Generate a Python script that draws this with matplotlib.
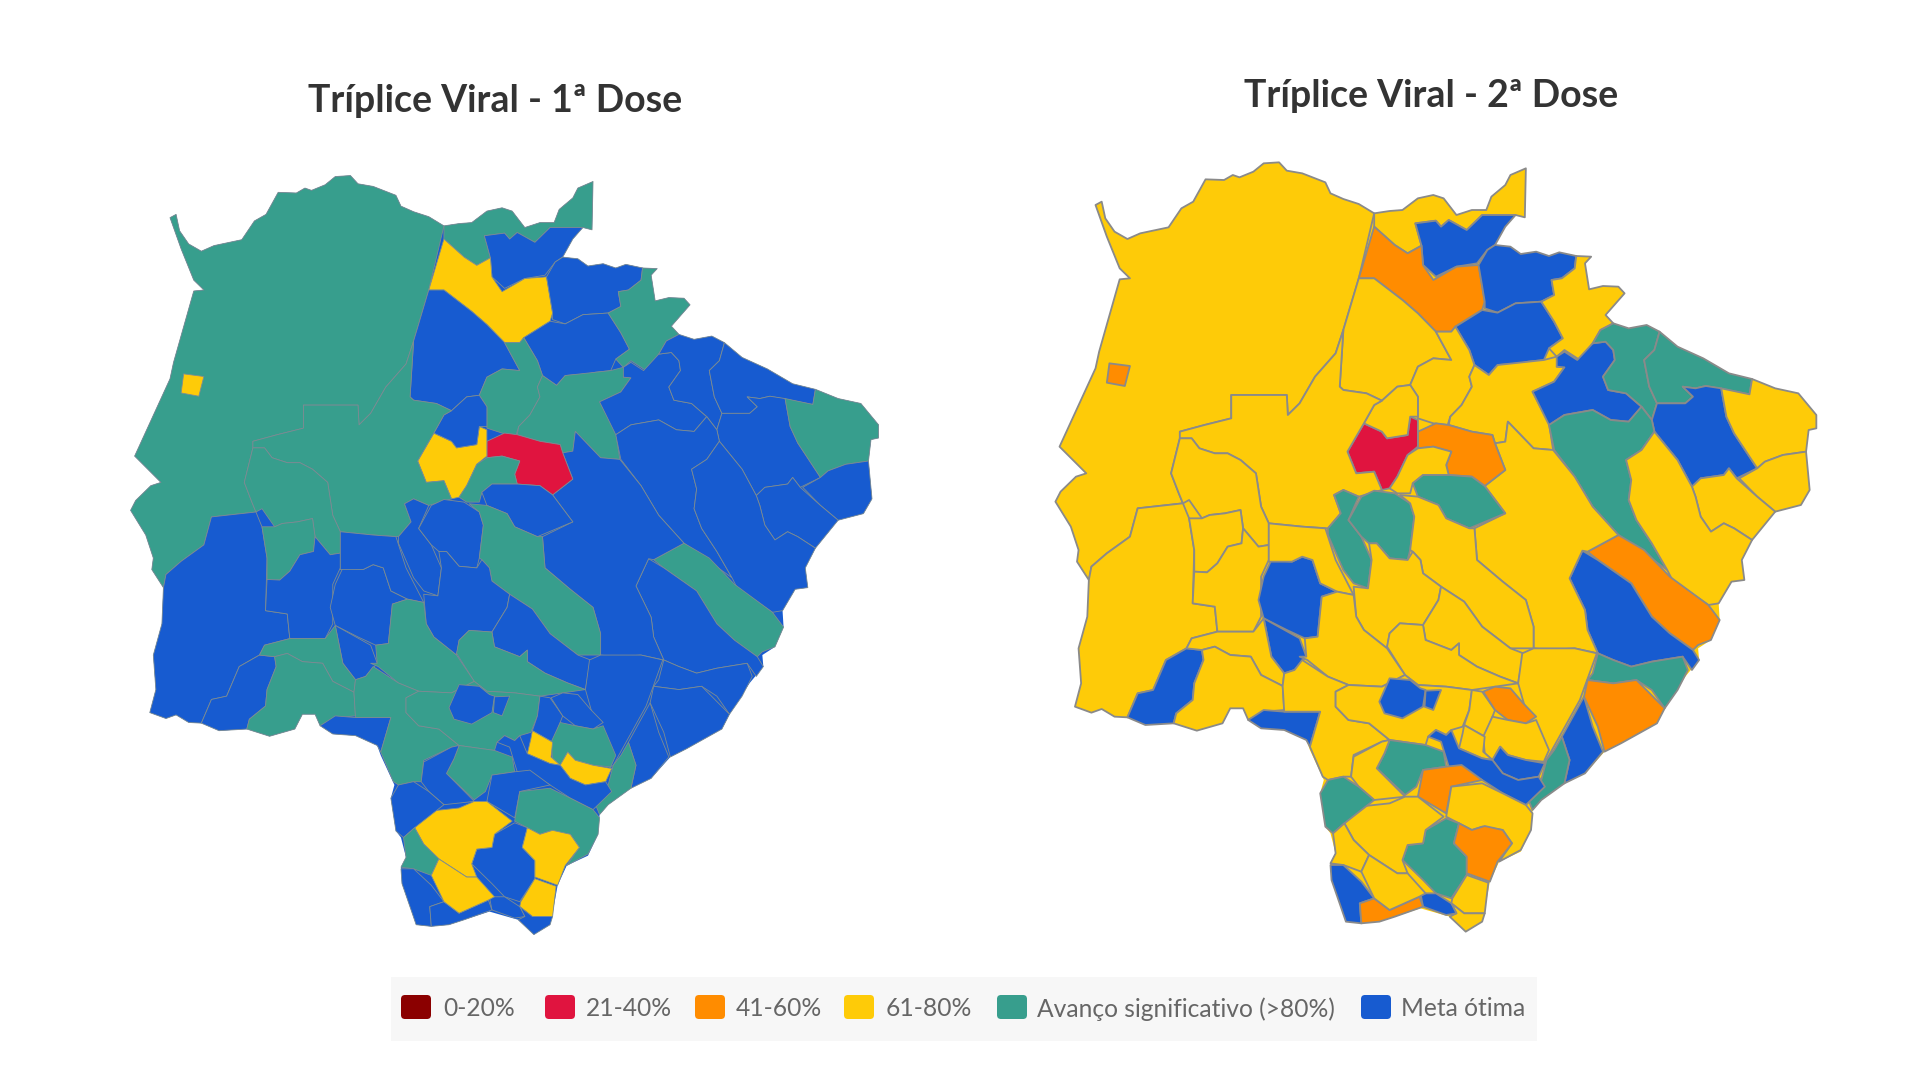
# triplice viral - mapa de cobertura por municipio (MS)
import matplotlib
matplotlib.use("Agg")
import matplotlib.pyplot as plt
from matplotlib.patches import Polygon, FancyBboxPatch, Rectangle
from matplotlib.transforms import Affine2D

LOW = 1290  # tracos da metade de baixo do mapa

def low(pts):
    return [(x, y + LOW) for x, y in pts]

# contorno do estado
estado = [(108,225),(120,215),(127,265),(145,305),(170,327),(195,310),(250,292),(275,235),(298,215),(322,148),(358,150),(375,135),(388,142),(415,125),(435,100),(465,97),(480,122),(510,130),(555,157),(565,190),(590,207),(620,222),(650,250),(680,243),(705,240),(735,205),(765,195),(785,205),(810,255),(840,240),(868,240),(878,200),(905,165),(915,135),(945,115),(943,262),(925,255),(905,290),(885,345),(915,350),(935,372),(965,365),(990,378),(1010,367),(1045,378),(1072,380),(1060,400),(1068,478),(1095,468),(1125,470),(1137,490),(1100,555),(1115,580),(1145,595),(1180,585),(1205,605),(1240,650),(1290,685),(1340,730),(1385,747),(1430,775),(1475,790),(1510,855),(1510,895),(1495,900),(1490,965),(1497,1080),(1480,1125),(1430,1145),(1385,1230),(1365,1290),(1370,1350),(1345,1355),(1320,1420),(1322,1470),(1305,1530),(1280,1555),(1282,1590),(1255,1640),(1215,1735),(1200,1780),(1130,1840),(1098,1865),(1060,1930),(1020,1960),(975,2010),(958,2040),(955,2100),(935,2165),(893,2195),(875,2255),(865,2340),(860,2375),(828,2405),(797,2360),(740,2335),(690,2360),(660,2375),(625,2380),(595,2375),(585,2330),(567,2250),(565,2200),(575,2170),(565,2110),(555,2090),(545,1990),(552,1950),(525,1860),(518,1830),(475,1800),(430,1795),(405,1770),(395,1735),(370,1735),(355,1780),(305,1802),(260,1780),(205,1785),(170,1762),(145,1760),(120,1737),(100,1748),(68,1730),(80,1660),(75,1555),(92,1460),(95,1350),(72,1295),(75,1260),(60,1190),(30,1115),(40,1085),(70,1040),(90,1030),(38,950),(108,715),(115,665),(155,448),(175,445),(155,415),(130,320)]

corumba = [(108,225),(120,215),(127,265),(145,305),(170,327),(195,310),(250,292),(275,235),(298,215),(322,148),(358,150),(375,135),(388,142),(415,125),(435,100),(465,97),(480,122),(510,130),(555,157),(565,190),(590,207),(620,222),(650,250),(620,445),(590,600),(575,670),(535,740),(505,820),(482,855),(480,795),(372,795),(372,865),(320,885),(272,905),(272,925),(255,1030),(270,1090),(278,1120),(190,1135),(175,1220),(130,1270),(100,1310),(95,1350),(72,1295),(75,1260),(60,1190),(30,1115),(40,1085),(70,1040),(90,1030),(38,950),(108,715),(115,665),(155,448),(175,445),(155,415),(130,320)]
ladario = [(135,700),(175,708),(165,768),(130,758)]
sonora = [(650,250),(680,243),(705,240),(735,205),(765,195),(785,205),(810,255),(840,240),(868,240),(878,200),(905,165),(915,135),(945,115),(943,262),(925,255),(860,255),(830,300),(795,270),(780,290),(770,272),(730,280),(742,347),(715,370),(690,345),(650,290)]
pedro_gomes = [(730,280),(770,272),(780,290),(795,270),(830,300),(860,255),(925,255),(905,290),(885,345),(870,360),(850,400),(810,410),(770,440),(745,405),(742,347)]
coxim = [(650,290),(690,345),(715,370),(742,347),(745,405),(765,450),(810,410),(853,405),(865,515),(860,540),(808,590),(800,605),(770,605),(735,550),(705,510),(650,445),(620,445)]
alcinopolis = [(885,345),(915,350),(935,372),(965,365),(990,378),(1010,367),(1043,378),(1040,415),(1015,445),(995,450),(1000,495),(975,515),(925,520),(890,548),(865,535),(865,515),(853,405),(870,360)]
figueirao = [(808,590),(860,540),(890,548),(925,520),(975,515),(1000,575),(1017,625),(990,655),(980,690),(950,695),(935,700),(890,705),(873,735),(845,705),(835,660)]
costa_rica = [(1043,378),(1072,380),(1060,400),(1068,478),(1095,468),(1125,470),(1137,490),(1100,555),(1115,580),(1090,600),(1075,640),(1050,690),(1020,660),(1005,680),(990,655),(1017,625),(1000,575),(975,515),(1000,495),(995,450),(1015,445),(1040,415)]
rio_verde = [(620,445),(650,445),(705,510),(735,550),(770,605),(800,690),(765,685),(735,710),(720,765),(695,770),(665,812),(635,790),(590,780),(583,770),(590,600)]
sao_gabriel = [(770,605),(800,605),(808,590),(835,660),(845,705),(835,740),(840,770),(820,825),(798,860),(793,885),(765,880),(735,865),(735,800),(720,765),(735,710),(765,685),(800,690)]
camapua = [(845,705),(873,735),(890,705),(950,695),(980,690),(1005,680),(1020,665),(1005,710),(1020,712),(1000,755),(958,785),(990,880),(998,960),(960,955),(935,915),(910,875),(905,935),(885,940),(880,915),(840,905),(795,885),(798,860),(820,825),(840,770),(835,740)]
chapadao = [(1005,680),(1020,665),(1045,690),(1075,640),(1100,635),(1115,660),(1118,690),(1095,740),(1105,780),(1140,790),(1170,830),(1145,875),(1110,870),(1075,840),(1020,855),(990,885),(958,785),(1000,755),(1020,712),(1005,710)]
verde_norte = [(1115,580),(1145,595),(1180,585),(1205,605),(1195,660),(1175,690),(1185,770),(1200,820),(1190,870),(1170,830),(1140,790),(1105,780),(1095,740),(1118,690),(1115,660),(1100,635),(1075,640),(1090,600)]
verde_leste = [(1205,605),(1240,650),(1290,685),(1340,730),(1385,747),(1380,793),(1320,775),(1295,768),(1275,775),(1250,770),(1270,800),(1255,820),(1200,820),(1185,770),(1175,690),(1195,660)]
paranaiba = [(1250,770),(1275,775),(1295,768),(1325,775),(1335,860),(1350,910),(1395,1015),(1355,1045),(1340,1015),(1330,1035),(1285,1045),(1268,1070),(1240,990),(1195,905),(1190,870),(1200,820),(1255,820),(1270,800)]
cassilandia = [(1325,775),(1380,793),(1385,747),(1430,775),(1475,790),(1510,855),(1510,895),(1495,900),(1490,965),(1445,975),(1410,995),(1395,1015),(1350,910),(1335,860)]
aparecida = [(1395,1015),(1410,995),(1445,975),(1490,965),(1497,1080),(1480,1125),(1430,1145),(1395,1100),(1360,1045)]
inocencia = [(1268,1070),(1285,1045),(1330,1035),(1340,1015),(1355,1045),(1395,1100),(1430,1145),(1385,1230),(1350,1195),(1330,1180),(1305,1205),(1285,1160),(1275,1100)]
agua_clara = [(990,885),(1020,855),(1075,840),(1110,870),(1145,875),(1170,830),(1190,870),(1195,905),(1170,960),(1140,990),(1150,1050),(1145,1110),(1160,1170),(1190,1240),(1220,1320),(1125,1215),(1075,1130),(1040,1040),(1000,960)]
selviria = [(1195,905),(1240,990),(1268,1070),(1275,1100),(1285,1160),(1305,1205),(1330,1180),(1350,1195),(1385,1230),(1365,1290),(1370,1350),(1345,1355),(1320,1420),(1300,1425),(1230,1350),(1220,1320),(1190,1240),(1160,1170),(1145,1110),(1150,1050),(1140,990),(1170,960)]
tres_lagoas = [(1125,1215),(1175,1260),(1225,1340),(1300,1425),(1322,1470),(1305,1530),(1280,1545),(1270,1560),(1225,1510),(1190,1460),(1150,1360),(1085,1290),(1065,1265)]
brasilandia = [(1055,1262),(1085,1290),(1150,1360),(1190,1460),(1225,1510),(1270,1560),(1282,1590),(1268,1620),(1250,1580),(1190,1595),(1150,1610),(1115,1590),(1085,1570),(1065,1500),(1060,1440),(1030,1345)]
ribas = [(998,960),(1040,1040),(1075,1130),(1125,1215),(1065,1265),(1055,1262),(1030,1345),(1060,1440),(1065,1500),(1085,1570),(1040,1555),(990,1560),(960,1555),(960,1490),(945,1410),(900,1355),(850,1290),(845,1195),(905,1150),(865,1068),(905,1020),(885,940),(905,935),(910,875),(935,915),(960,955)]
rochedo = [(735,905),(770,880),(795,885),(840,905),(880,915),(885,940),(905,1020),(865,1068),(840,1040),(795,1035),(790,1005),(800,965),(765,950),(735,955)]
rio_negro = [(630,880),(665,905),(675,925),(715,915),(720,860),(735,870),(735,950),(715,975),(695,1040),(680,1075),(665,1080),(650,1025),(615,1030),(598,965)]
corguinho = [(665,812),(695,770),(720,765),(735,800),(735,860),(720,860),(715,915),(675,925),(665,905),(630,880),(650,825)]
rio_brilhante = [(735,955),(765,950),(800,965),(790,1005),(795,1035),(745,1035),(725,1060),(720,1090),(695,1090),(680,1075),(695,1040),(715,975)]
jaraguari = [(725,1060),(745,1035),(795,1035),(840,1040),(865,1068),(905,1150),(835,1195),(790,1165),(775,1125),(735,1100)]
aquidauana = [(372,795),(480,795),(482,855),(505,820),(535,740),(575,670),(590,600),(583,770),(590,780),(635,790),(665,812),(650,825),(630,880),(598,965),(615,1030),(650,1025),(665,1080),(620,1100),(590,1080),(572,1095),(585,1150),(560,1195),(510,1190),(445,1180),(430,1130),(420,1030),(390,990),(365,970),(340,970),(310,955),(295,925),(272,925),(272,905),(320,885),(372,865)]
miranda = [(272,925),(295,925),(310,955),(340,970),(365,970),(390,990),(420,1030),(430,1130),(445,1180),(445,1245),(425,1250),(395,1195),(390,1140),(360,1150),(330,1155),(315,1165),(290,1110),(278,1120),(270,1090),(255,1030)]
anastacio = [(572,1095),(590,1080),(620,1100),(600,1170),(625,1220),(645,1290),(638,1375),(610,1360),(590,1320),(560,1215),(560,1195),(585,1150)]
terenos = [(625,1100),(650,1082),(690,1090),(720,1120),(728,1160),(720,1260),(715,1290),(680,1285),(655,1240),(640,1240),(625,1220),(600,1170)]
campo_grande = [(700,1095),(735,1100),(775,1125),(790,1165),(835,1195),(845,1195),(850,1290),(900,1355),(945,1410),(960,1490),(960,1555),(915,1555),(860,1490),(825,1415),(780,1370),(745,1330),(740,1290),(725,1265),(720,1260),(728,1160),(720,1120)]
sidrolandia = [(640,1240),(655,1240),(680,1285),(715,1290),(725,1265),(740,1290),(745,1330),(780,1370),(775,1410),(745,1485),(700,1480),(680,1510),(675,1555),(630,1500),(615,1460),(610,1370),(638,1375),(645,1290)]
nova_alvorada = [(780,1370),(825,1415),(860,1490),(915,1555),(940,1570),(930,1660),(895,1640),(850,1610),(815,1575),(815,1540),(800,1560),(750,1530),(745,1485),(775,1410)]
maracaju = [(675,1550),(680,1510),(700,1480),(745,1485),(750,1530),(800,1560),(815,1540),(815,1575),(850,1610),(895,1640),(930,1660),(885,1670),(840,1680),(790,1670),(735,1665),(710,1635)]
bataguassu = [(938,1570),(960,1555),(1040,1555),(1083,1570),(1050,1710),(985,1890),(978,1900),(965,1850),(930,1660)]
anaurilandia = [(1058,1700),(1075,1790),(1095,1865),(1060,1930),(1020,1960),(1030,1890),(1015,1820)]
taquarussu = [(1015,1820),(1030,1890),(1020,1960),(975,2010),(958,2040),(950,2010),(975,1950),(985,1890),(1000,1860)]
bataypora = [(1085,1570),(1115,1590),(1150,1610),(1190,1595),(1250,1580),(1260,1620),(1240,1680),(1215,1735),(1190,1680),(1160,1650),(1115,1660),(1065,1650),(1075,1630)]
nova_andradina = [(1065,1650),(1115,1660),(1160,1650),(1215,1735),(1200,1780),(1130,1840),(1098,1865),(1085,1790),(1058,1700)]
porto_murtinho = [(190,1135),(278,1120),(290,1165),(300,1260),(297,1420),(340,1430),(345,1505),(295,1525),(285,1555),(245,1590),(220,1680),(190,1690),(170,1762),(145,1760),(120,1737),(100,1748),(68,1730),(80,1660),(75,1555),(92,1460),(95,1350),(100,1310),(130,1270),(175,1220)]
caracol = [(285,1555),(315,1560),(318,1590),(300,1660),(297,1710),(265,1750),(260,1780),(205,1785),(170,1762),(190,1690),(220,1680),(245,1590)]
bodoquena = [(290,1165),(315,1165),(330,1155),(360,1150),(390,1140),(395,1195),(392,1240),(365,1250),(345,1300),(325,1327),(300,1325),(300,1260)]
bonito = [(300,1325),(325,1327),(345,1300),(365,1250),(392,1240),(395,1195),(425,1250),(445,1245),(445,1290),(430,1340),(430,1460),(415,1505),(345,1505),(340,1430),(297,1420)]
nioaque = low([(450,0),(490,5),(510,-10),(530,0),(545,70),(578,95),(548,110),(540,230),(515,235),(480,210),(435,175),(425,120),(435,50)])
guia_lopes = low([(435,175),(505,235),(518,290),(495,330),(475,340),(450,290)])
dois_irmaos = [(445,1180),(510,1190),(555,1195),(575,1290),(610,1395),(578,1385),(545,1360),(530,1290),(510,1280),(490,1295),(445,1295)]
bela_vista_n = [(610,1395),(615,1460),(630,1500),(675,1555),(710,1635),(665,1670),(600,1665),(560,1640),(520,1590),(505,1580),(518,1580),(515,1525),(540,1520),(548,1400),(578,1385)]
jardim = low([(295,235),(345,215),(415,215),(435,175),(450,290),(475,340),(472,378),(430,345),(410,290),(370,285),(340,260),(315,270),(285,265)])
bela_vista = low([(315,270),(340,260),(370,285),(410,290),(430,345),(472,378),(475,450),(435,455),(405,480),(395,445),(370,445),(355,490),(305,512),(260,490),(265,460),(297,420),(300,370),(318,300)])
antonio_joao = low([(405,480),(435,450),(475,455),(545,455),(525,560),(518,540),(475,510),(430,505)])
ponta_pora = low([(472,378),(475,340),(495,330),(510,300),(560,350),(600,375),(575,395),(575,440),(600,480),(640,490),(680,540),(665,545),(610,585),(605,650),(590,650),(560,660),(550,650),(525,560),(545,455),(475,455)])
dourados = low([(600,375),(665,380),(710,345),(735,375),(790,380),(840,390),(835,450),(822,500),(800,510),(790,525),(770,510),(755,530),(750,555),(680,540),(640,490),(600,480),(575,440),(575,395)])
itapora = low([(660,425),(680,355),(720,360),(740,385),(750,390),(745,440),(705,475),(670,460)])
douradina = low([(750,392),(780,390),(765,450),(748,440)])
deodapolis = low([(840,390),(860,395),(885,450),(880,470),(865,530),(825,495),(835,450)])
angelica = low([(862,395),(885,380),(915,385),(940,430),(965,470),(945,490),(910,480),(885,450)])
ivinhema = low([(880,470),(910,480),(945,490),(965,480),(990,570),(980,605),(945,600),(910,585),(895,560),(880,600),(865,580),(862,530)])
novo_horizonte = low([(880,600),(895,560),(910,585),(945,600),(982,610),(970,650),(930,660),(900,640)])
gloria = low([(825,495),(865,530),(862,575),(880,600),(860,595),(815,565),(822,520)])
jatei = low([(755,530),(770,510),(790,525),(800,510),(815,565),(860,595),(880,600),(900,640),(930,660),(970,650),(982,680),(945,735),(900,700),(860,660),(820,625),(795,620),(780,545)])
caarapo = low([(680,540),(750,555),(785,575),(790,620),(745,630),(732,680),(710,705),(655,625),(670,580)])
laguna = low([(610,590),(665,545),(680,540),(670,580),(655,625),(710,710),(650,720),(620,680),(605,650)])
juti = low([(745,630),(790,620),(820,615),(860,660),(800,680),(790,760),(735,710)])
navirai = low([(800,680),(860,670),(900,700),(945,735),(958,760),(955,810),(935,870),(893,905),(918,850),(900,810),(860,800),(840,810),(790,770)])
iguatemi = low([(790,775),(815,790),(805,850),(830,890),(830,945),(800,1015),(770,1000),(745,960),(705,900),(715,855),(745,850),(750,810)])
mundo_novo = low([(815,790),(840,810),(865,798),(900,810),(918,850),(890,905),(875,965),(830,940),(830,890),(805,850)])
eldorado = low([(830,945),(872,968),(865,1060),(825,1060),(800,1030),(802,1015)])
japora = low([(800,1030),(825,1060),(865,1060),(860,1085),(828,1115),(797,1070),(810,1060)])
sete_quedas = low([(740,1000),(770,1000),(800,1030),(810,1060),(790,1065),(745,1040)])
amambai = low([(592,790),(620,740),(680,730),(710,710),(735,710),(785,770),(750,810),(745,850),(715,855),(705,900),(715,940),(695,940),(640,885),(610,840)])
aral_moreira = low([(545,700),(560,660),(590,650),(620,680),(650,720),(592,790),(570,820),(555,800)])
coronel_sapucaia = low([(570,820),(592,790),(610,840),(640,885),(625,935),(590,915),(565,910),(575,880)])
paranhos = low([(565,915),(590,915),(625,965),(650,1015),(622,1030),(625,1090),(595,1085),(585,1040),(567,960)])
tacuru = low([(622,1030),(650,1015),(680,1050),(738,1010),(745,1040),(690,1070),(660,1085),(625,1090)])
ypane = low([(640,885),(695,940),(715,940),(750,1000),(738,1010),(680,1050),(650,1015),(625,935)])

municipios = [corumba, ladario, sonora, pedro_gomes, coxim, alcinopolis, figueirao, costa_rica, rio_verde, sao_gabriel, camapua, chapadao, verde_norte, verde_leste, paranaiba, cassilandia, aparecida, inocencia, agua_clara, selviria, tres_lagoas, brasilandia, ribas, rochedo, rio_negro, corguinho, rio_brilhante, jaraguari, aquidauana, miranda, anastacio, terenos, campo_grande, sidrolandia, nova_alvorada, maracaju, bataguassu, anaurilandia, taquarussu, bataypora, nova_andradina, porto_murtinho, caracol, bodoquena, bonito, nioaque, guia_lopes, dois_irmaos, bela_vista_n, jardim, bela_vista, antonio_joao, ponta_pora, dourados, itapora, douradina, deodapolis, angelica, ivinhema, novo_horizonte, gloria, jatei, caarapo, laguna, juti, navirai, iguatemi, mundo_novo, eldorado, japora, sete_quedas, amambai, aral_moreira, coronel_sapucaia, paranhos, tacuru, ypane]

# faixa de cobertura de cada municipio, na ordem da lista acima
dose1 = ("G Y G B Y B B G B G  G B B B B G B B B B  G B B R Y B G B G G  B B G B B G B B G B  "
         "B B B G B B B B G G  G B G G B B B B G Y  Y B G B B G B Y Y B  B Y B G B B Y").split()
dose2 = ("Y O Y B O B B Y Y Y  Y B G G B Y Y Y G Y  O B Y O R Y Y G Y Y  G G Y Y Y Y Y B G G  "
         "O Y B Y Y B B Y Y Y  Y B Y Y B B Y O Y B  Y B G Y O Y G O Y Y  B Y G Y B O Y").split()

classes = ["0-20%", "21-40%", "41-60%", "61-80%", "Avanço significativo (>80%)", "Meta ótima"]
cores = ["#8b0000", "#e0143f", "#ff8c00", "#fecb08", "#379e8d", "#175bd0"]
chaves = ["D", "R", "O", "Y", "G", "B"]
cor_de = dict(zip(chaves, cores))

titulos = ["Tríplice Viral - 1ª Dose", "Tríplice Viral - 2ª Dose"]

fig = plt.figure(figsize=(19.2, 10.8), dpi=100)
ax = fig.add_axes([0, 0, 1, 1])
ax.set_xlim(0, 1920)
ax.set_ylim(1080, 0)
ax.axis("off")
plt.rcParams["font.family"] = ["Lato", "DejaVu Sans"]

# tracado -> pixels; o mapa da 1a dose e um pouco menor que o da 2a
tr1 = Affine2D().scale(0.983 / 1.945, 0.9866 / 3).translate(100 + 30 / 1.945, 130 + 41 / 3) + ax.transData
tr2 = Affine2D().scale(1 / 1.945, 1 / 3).translate(1040, 130) + ax.transData


def desenha_mapa(valores, tr, lw, base, borda):
    ax.add_patch(Polygon(estado, closed=True, fc=cor_de[base], ec="none", transform=tr))
    for pts, v in zip(municipios, valores):
        ax.add_patch(Polygon(pts, closed=True, fc=cor_de[v], ec=borda, lw=lw, joinstyle="round", transform=tr))


desenha_mapa(dose1, tr1, 0.6, "B", "#7d8c92")
desenha_mapa(dose2, tr2, 1.3, "Y", "#8a8a8a")

ax.text(495, 101, titulos[0], ha="center", va="center", fontsize=27, fontweight="bold", color="#333333")
ax.text(1431, 96, titulos[1], ha="center", va="center", fontsize=27, fontweight="bold", color="#333333")

# legenda
ax.add_patch(Rectangle((391, 977), 1146, 64, fc="#f7f7f7", ec="none"))
caixa_x = [401, 545, 695, 844, 997, 1361]
texto_x = [443, 586, 736, 886, 1037, 1401]
for cx, tx, lab, cor in zip(caixa_x, texto_x, classes, cores):
    ax.add_patch(FancyBboxPatch((cx + 4, 999), 22, 16, boxstyle="round,pad=4", fc=cor, ec="none"))
    ax.text(tx, 1009, lab, ha="left", va="center", fontsize=17.7, color="#666666")

fig.savefig("out.png", dpi=100)
